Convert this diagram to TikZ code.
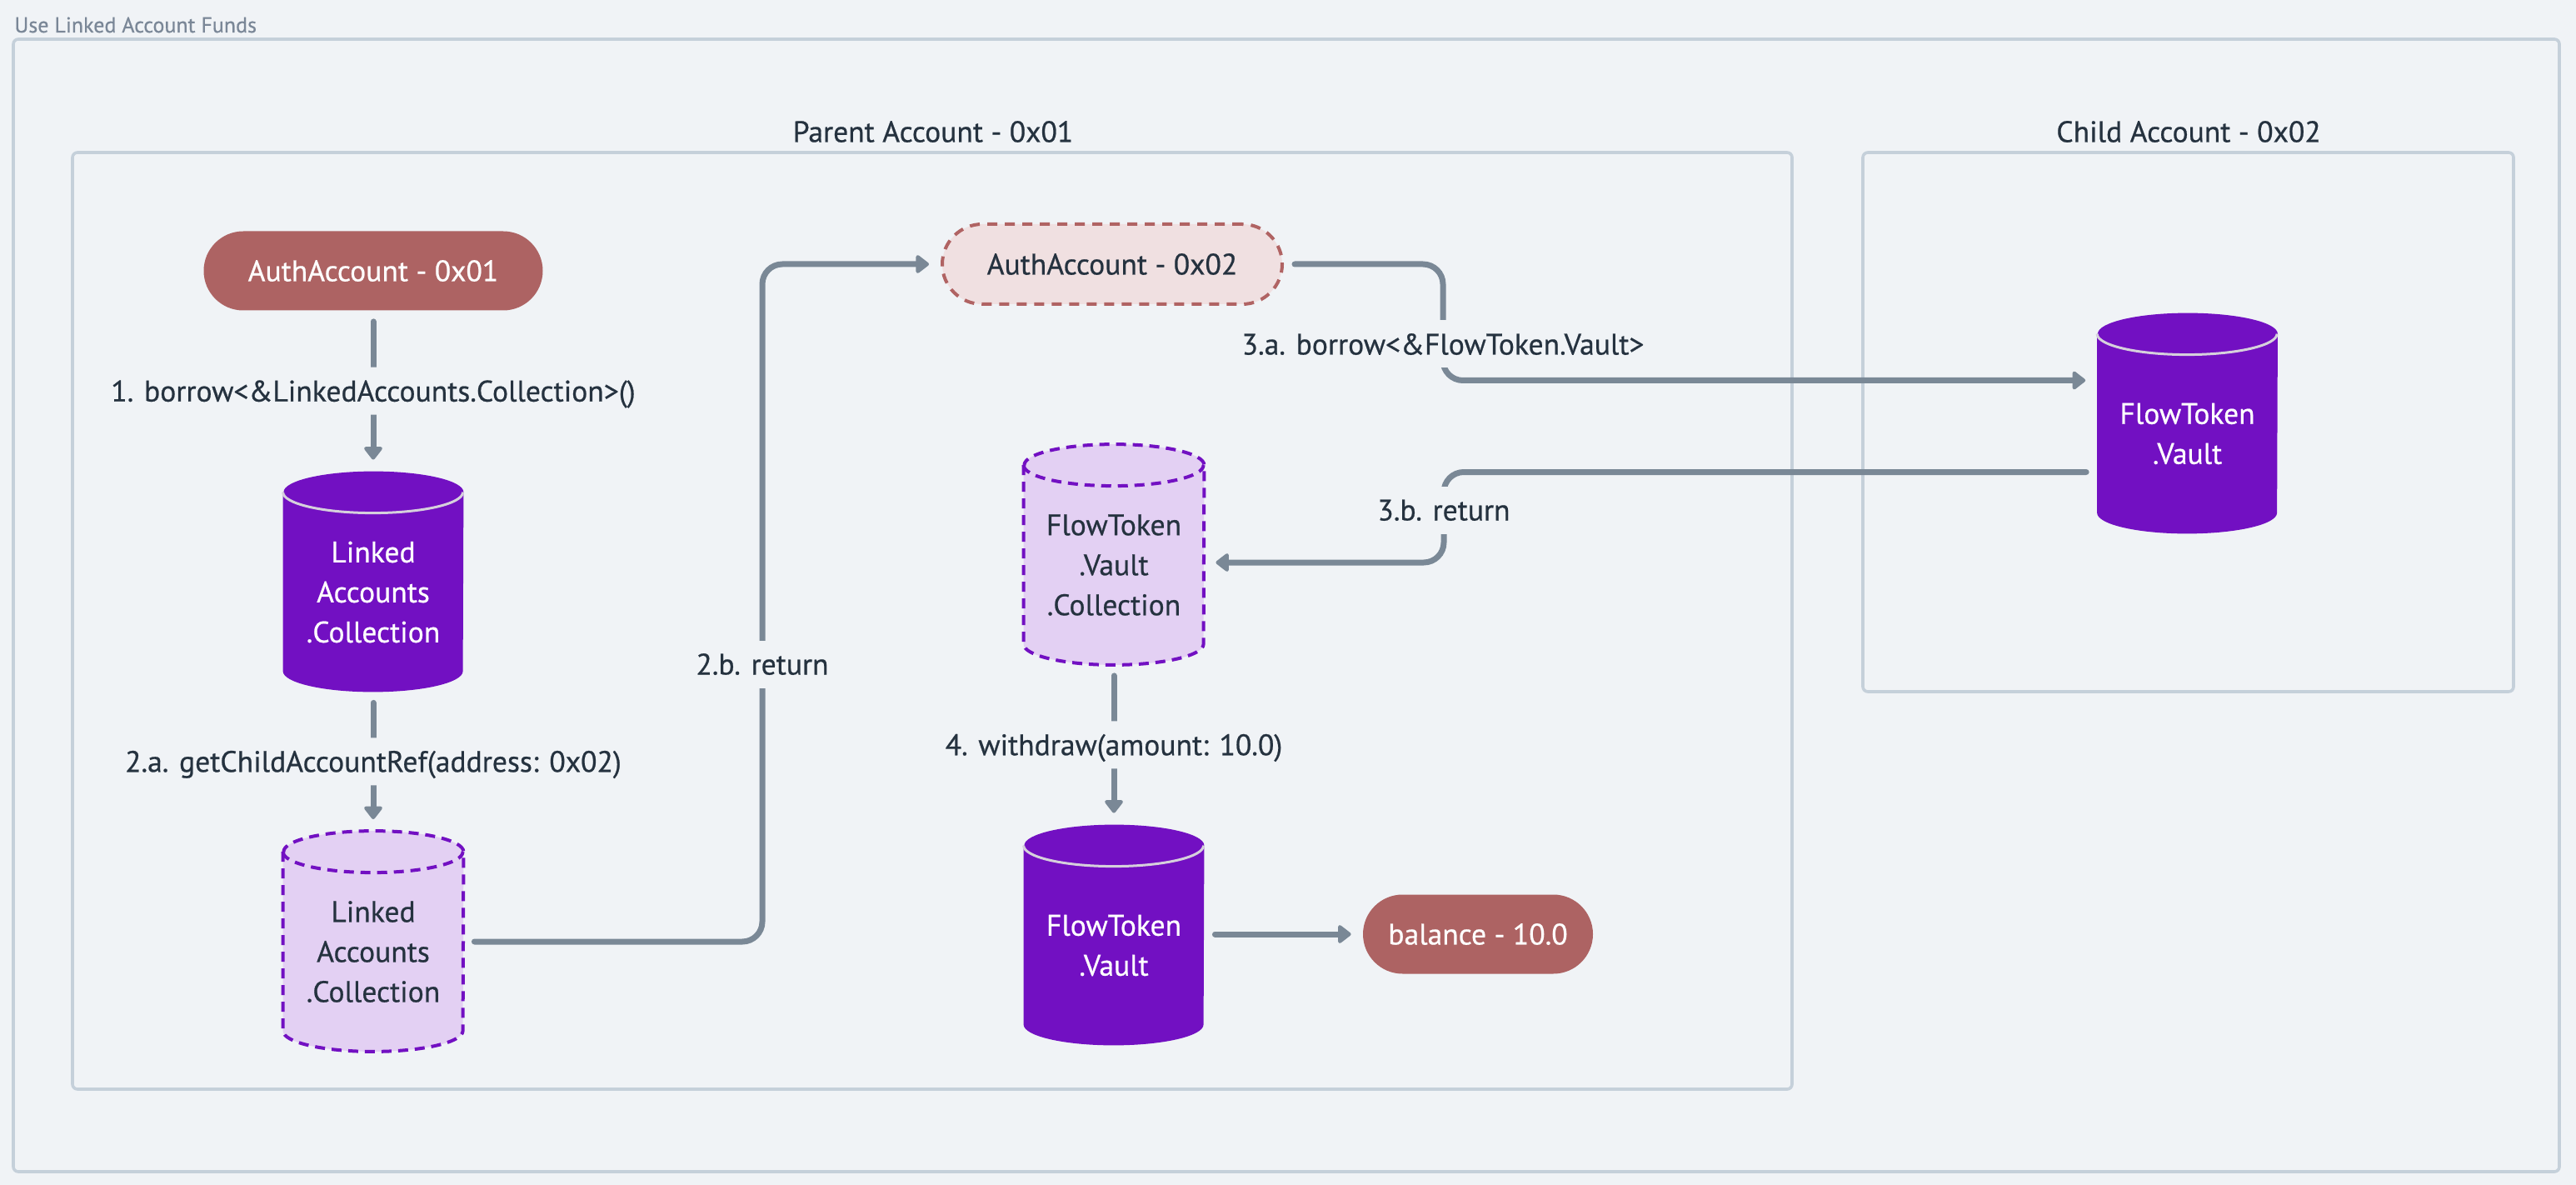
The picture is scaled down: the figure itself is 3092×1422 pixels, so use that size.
\documentclass[tikz,border=0pt]{standalone}
\usepackage{fontspec}
\setmainfont{PT Sans}[FakeBold=0.6]
\usetikzlibrary{arrows.meta,calc}

\definecolor{bgc}{HTML}{F0F3F6}
\definecolor{framec}{HTML}{C5D0DA}
\definecolor{titlec}{HTML}{7A8797}
\definecolor{textc}{HTML}{25323F}
\definecolor{connc}{HTML}{7A8896}
\definecolor{pillc}{HTML}{AD6363}
\definecolor{pilllight}{HTML}{F0E0E1}
\definecolor{pilldash}{HTML}{B06363}
\definecolor{purp}{HTML}{7210C2}
\definecolor{lpurp}{HTML}{E3D0F3}
\definecolor{rimc}{HTML}{D6D0DC}

\pgfdeclarelayer{back}
\pgfdeclarelayer{cyls}
\pgfsetlayers{back,cyls,main}

\newcommand\labelfont{\fontsize{17.8}{24}\selectfont}

% cylinder drawn round a node, top ellipse centred on its north side
\newcommand\cylshape[2]{%
  \path[#2] (#1.north west) -- ($(#1.south west)+(0pt,12.5pt)$)
    arc[start angle=180,end angle=360,x radius=54pt,y radius=12.5pt]
    -- (#1.north east)
    arc[start angle=0,end angle=180,x radius=54pt,y radius=12.5pt] -- cycle;}
\newcommand\cylrim[2]{%
  \draw[#2] (#1.north west)
    arc[start angle=180,end angle=360,x radius=54pt,y radius=12.5pt];}

\tikzset{
  frame/.style={draw=framec, line width=1.8pt, rounded corners=3pt},
  pill/.style={fill=pillc, text=white, font=\labelfont, rounded corners=23.75pt,
    minimum height=47.5pt, inner sep=0pt},
  pilldashed/.style={fill=pilllight, draw=pilldash, line width=2pt,
    dash pattern=on 6pt off 4.5pt, text=textc, font=\labelfont,
    rounded corners=24pt, minimum height=48pt, minimum width=204pt, inner sep=0pt},
  db/.style={minimum width=108pt, minimum height=119.5pt, inner sep=0pt,
    align=center, font=\labelfont},
  conn/.style={draw=connc, line width=3.5pt, line cap=round, rounded corners=12pt,
    shorten <=6.5pt, shorten >=7pt, -{Triangle[width=12.5pt,length=8.5pt,round]}},
  steplabel/.style={fill=bgc, text=textc, font=\labelfont, inner xsep=3pt,
    inner ysep=8pt, text height=12.5pt, text depth=0pt},
}

\begin{document}
\begin{tikzpicture}[x=0.5pt,y=-0.5pt]
  \useasboundingbox (0,0) rectangle (3092,1422);
  \begin{pgfonlayer}{back}
    \fill[bgc] (0,0) rectangle (3092,1422);
  \end{pgfonlayer}

  % Frames
  \draw[frame] (16,47) rectangle (3072,1406);
  \draw[frame] (87,183) rectangle (2151,1307);
  \draw[frame] (2236,183) rectangle (3017,830);
  \node[anchor=base west, inner sep=0pt, text=titlec,
    font=\fontsize{13}{16}\selectfont] (title) at (17,39) {Use Linked Account Funds};
  \node[text=textc, font=\labelfont] (parent) at (1120,158) {Parent Account - 0x01};
  \node[text=textc, font=\labelfont] (child) at (2627,158) {Child Account - 0x02};

  % Accounts and balance
  \node[pill, minimum width=203.5pt] (aa1) at (448,325) {AuthAccount - 0x01};
  \node[pilldashed] (aa2) at (1335,317) {AuthAccount - 0x02};
  \node[pill, minimum width=138pt] (bal) at (1774,1121) {balance - 10.0};

  % Stored resources
  \node[db, text=white] (lac1) at (448,710.5) {Linked\\Accounts\\.Collection};
  \node[db, text=textc] (lac2) at (448,1142) {Linked\\Accounts\\.Collection};
  \node[db, text=textc] (fvc) at (1337,678) {FlowToken\\.Vault\\.Collection};
  \node[db, text=white] (fv1) at (1337,1134.5) {FlowToken\\.Vault};
  \node[db, text=white] (fv2) at (2625.5,520.5) {FlowToken\\.Vault};

  \begin{pgfonlayer}{cyls}
    \cylshape{lac1}{fill=purp}
    \cylrim{lac1}{draw=rimc, line width=1.5pt}
    \cylshape{fv1}{fill=purp}
    \cylrim{fv1}{draw=rimc, line width=1.5pt}
    \cylshape{fv2}{fill=purp}
    \cylrim{fv2}{draw=rimc, line width=1.5pt}
    \cylshape{lac2}{fill=lpurp, draw=purp, line width=2pt, dash pattern=on 6pt off 4pt}
    \cylrim{lac2}{draw=purp, line width=2pt, dash pattern=on 6pt off 4pt}
    \cylshape{fvc}{fill=lpurp, draw=purp, line width=2pt, dash pattern=on 6pt off 4pt}
    \cylrim{fvc}{draw=purp, line width=2pt, dash pattern=on 6pt off 4pt}
  \end{pgfonlayer}

  % Connectors
  \draw[conn] (aa1) -- ([yshift=12.5pt]lac1.north)
    node[steplabel, midway] (lab1) {1. borrow<\&LinkedAccounts.Collection>()};
  \draw[conn] (lac1) -- ([yshift=12.5pt]lac2.north)
    node[steplabel, midway] (lab2a) {2.a. getChildAccountRef(address: 0x02)};

  \coordinate (turn2b) at (915,797);
  \draw[conn] ([yshift=6pt]lac2.east) -| (turn2b) |- (aa2.west);
  \node[steplabel] (lab2b) at (turn2b) {2.b. return};

  \coordinate (turn3a) at (1732,413);
  \draw[conn] (aa2.east) -| (turn3a) |- ([yshift=32pt]fv2.west);
  \node[steplabel] (lab3a) at (turn3a) {3.a. borrow<\&FlowToken.Vault>};

  \coordinate (turn3b) at (1733,612);
  \draw[conn] ([yshift=-23pt]fv2.west) -| (turn3b) |- ([yshift=1.5pt]fvc.east);
  \node[steplabel] (lab3b) at (turn3b) {3.b. return};

  \draw[conn] (fvc) -- ([yshift=12.5pt]fv1.north)
    node[steplabel, midway] (lab4) {4. withdraw(amount: 10.0)};
  \draw[conn] (fv1.east |- bal.west) -- (bal.west);
\end{tikzpicture}
\end{document}
